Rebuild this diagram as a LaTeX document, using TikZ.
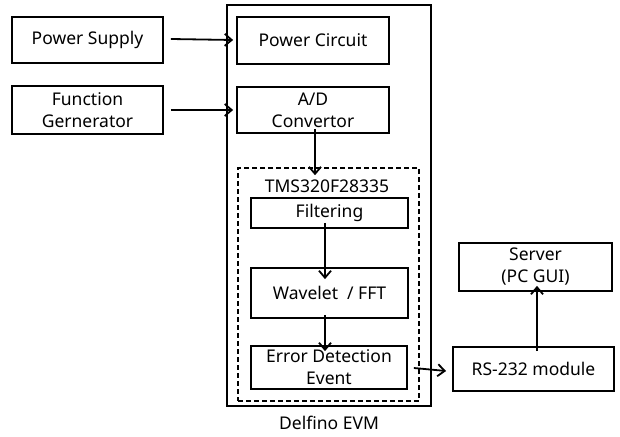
\documentclass[tikz,border=0pt]{standalone}
\usepackage{fontspec}
\setmainfont{Noto Sans}
\usetikzlibrary{arrows.meta}
\begin{document}
\begin{tikzpicture}[x=1pt,y=-1pt,
  box/.style={draw,line width=1.8pt,rectangle,inner sep=0pt,align=center,font=\fontsize{17.5}{22}\selectfont},
  arr/.style={line width=1.8pt,-{Straight Barb[length=7pt,width=12pt,line width=1.8pt]}},
  lbl/.style={inner sep=0pt,font=\fontsize{17.5}{22}\selectfont}]
\useasboundingbox (0,0) rectangle (620,436);
\node[draw,line width=1.8pt,minimum width=204,minimum height=401,inner sep=0pt] (evm) at (329,205.5) {};
\node[draw,line width=1.6pt,dash pattern=on 5pt off 3pt,minimum width=181,minimum height=233,inner sep=0pt] (dsp) at (328.5,284.5) {};
\node[box,minimum width=151,minimum height=46] (ps) at (87.5,40) {Power Supply};
\node[box,minimum width=151,minimum height=48] (fg) at (87.5,110) {Function\\Gernerator};
\node[box,minimum width=152,minimum height=47] (pc) at (313,40.5) {Power Circuit};
\node[box,minimum width=152,minimum height=46] (ad) at (313,110) {A/D\\Convertor};
\node[lbl] (tms) at (327,186) {TMS320F28335};
\node[box,minimum width=157,minimum height=30] (filt) at (329.5,213) {Filtering};
\node[box,minimum width=157,minimum height=50] (wav) at (329.5,293) {Wavelet~~/ FFT};
\node[box,minimum width=156,minimum height=43] (err) at (329,367.5) {Error Detection\\Event};
\node[box,minimum width=161,minimum height=44] (rs) at (533.5,369) {RS-232 module};
\node[box,minimum width=153,minimum height=48] (srv) at (535.5,267) {Server\\(PC GUI)};
\node[lbl] (evml) at (329,423) {Delfino EVM};
\draw[arr] ([xshift=7,yshift=1]ps.east) -- ([xshift=-3,yshift=0.5]pc.west);
\draw[arr] ([xshift=7]fg.east) -- ([xshift=-3]ad.west);
\draw[arr] ([xshift=2,yshift=5]ad.south) -- ([xshift=-13.5,yshift=-8]dsp.north);
\draw[arr] ([xshift=-4.5,yshift=6]filt.south) -- ([xshift=-4.5,yshift=-12]wav.north);
\draw[arr] ([xshift=-4.5,yshift=4]wav.south) -- ([xshift=-4,yshift=-6]err.north);
\draw[arr] ([xshift=6,yshift=-0.5]err.east) -- ([xshift=-6,yshift=-2]rs.west);
\draw[arr] ([xshift=3.5,yshift=-5]rs.north) -- ([xshift=1.5,yshift=6]srv.south);
\end{tikzpicture}
\end{document}
